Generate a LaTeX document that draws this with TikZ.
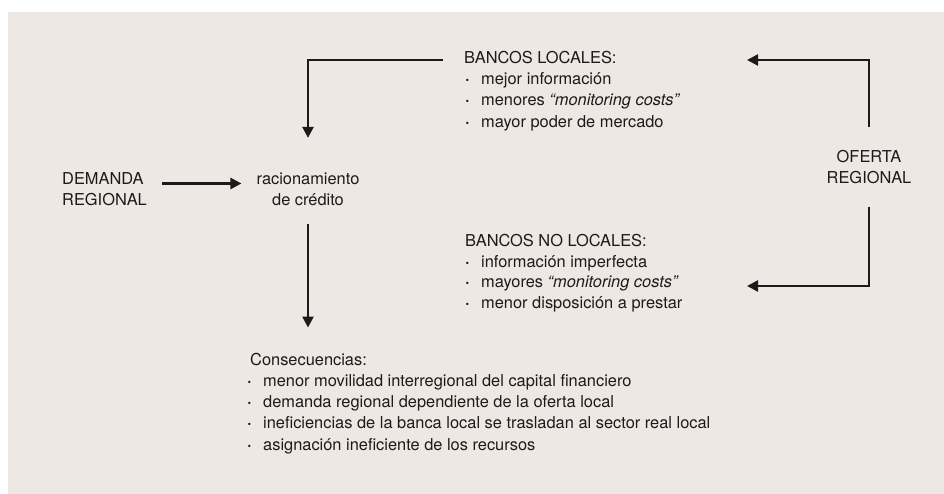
\documentclass[tikz,border=0pt]{standalone}
\usepackage{fontspec}
\setmainfont{TeX Gyre Heros}
\usetikzlibrary{arrows.meta}
\definecolor{fondo}{HTML}{EDE8E3}
\definecolor{tinta}{HTML}{1E1A1B}
\newcommand{\punto}{\makebox[16pt][l]{\textbf{·}}}

\begin{document}
\begin{tikzpicture}[x=1pt,y=-1pt,
  every node/.style={text=tinta, inner sep=0pt, font=\fontsize{16.4}{21}\selectfont},
  flecha/.style={draw=tinta, line width=2.4pt, -{Triangle[length=11pt,width=11pt]}}]
\useasboundingbox (0,0) rectangle (944,494);
\fill[fondo] (8,12) rectangle (944,494);

% centro del esquema
\node[align=left, anchor=west] (demanda) at (62,189.5) {DEMANDA\\REGIONAL};
\node[align=center] (racion) at (308,189.5) {racionamiento\\de crédito};
\node[align=center] (oferta) at (869,167.5) {OFERTA\\REGIONAL};

% bancos locales
\node[anchor=base west] (loctit) at (464,63.3) {BANCOS LOCALES:};
\foreach \t [count=\i] in {mejor información, menores \emph{“monitoring costs”}, mayor poder de mercado}
  \node[anchor=base west] (loc\i) at (465,63.3+21.3*\i) {\punto\t};

% bancos no locales
\node[anchor=base west] (noloctit) at (465,246.7) {BANCOS NO LOCALES:};
\foreach \t [count=\i] in {información imperfecta, mayores \emph{“monitoring costs”}, menor disposición a prestar}
  \node[anchor=base west] (noloc\i) at (465,246.7+20.6*\i) {\punto\t};

% consecuencias
\node[anchor=base west] (constit) at (250,365) {Consecuencias:};
\foreach \t [count=\i] in {menor movilidad interregional del capital financiero, demanda regional dependiente de la oferta local, ineficiencias de la banca local se trasladan al sector real local, asignación ineficiente de los recursos}
  \node[anchor=base west] (cons\i) at (247,365+21.3*\i) {\punto\t};

% flechas
\coordinate (locout) at (443,60);
\coordinate (locin) at (747,60);
\coordinate (nolocin) at (747,286);
\draw[flecha, shorten <=15pt, shorten >=15pt] ([yshift=6pt]demanda.east) -- ([yshift=6pt]racion.west);
\draw[flecha, shorten >=35pt] (locout) -| (racion.north);
\draw[flecha, shorten <=18pt, shorten >=25pt] (racion.south) -- (racion.south |- constit.north);
\draw[flecha, shorten <=24pt] (oferta.north) |- (locin);
\draw[flecha, shorten <=23pt] (oferta.south) |- (nolocin);
\end{tikzpicture}
\end{document}
